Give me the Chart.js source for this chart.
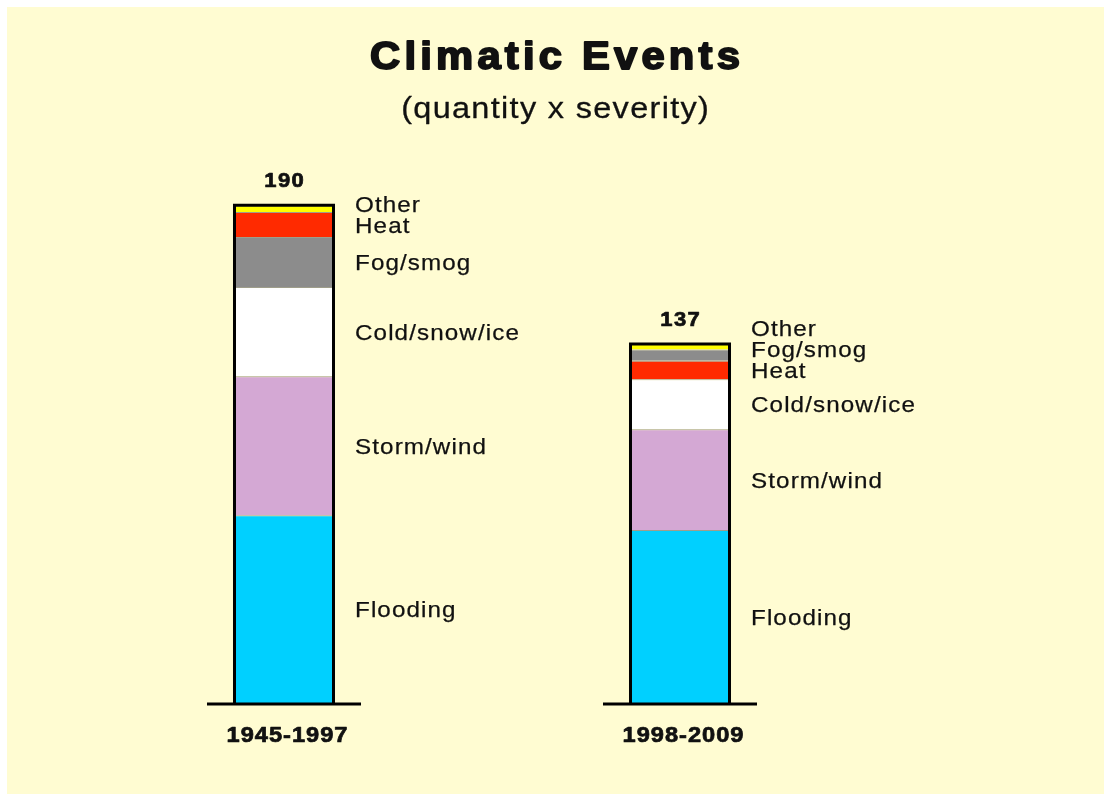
<!DOCTYPE html>
<html>
<head>
<meta charset="utf-8">
<title>Climatic Events</title>
<script src="https://cdn.jsdelivr.net/npm/chart.js@4/dist/chart.umd.min.js"></script>
<style>
  html, body { margin: 0; padding: 0; background: #ffffff; }
  canvas { display: block; }
</style>
</head>
<body>
<canvas id="chart" width="1104" height="794"></canvas>
<script>
// Periods compared
const periods = ['1945-1997', '1998-2009'];

// Event categories (quantity x severity) per period
const eventNames = ['Flooding', 'Storm/wind', 'Cold/snow/ice', 'Fog/smog', 'Heat', 'Other'];
const flooding    = [71.7, 66.0];
const stormWind   = [53.0, 38.5];
const coldSnowIce = [34.1, 19.1];
const fogSmog     = [19.1, 4.3];
const heat        = [9.5, 7.0];
const other       = [2.6, 2.1];

// Segment colours per category
const eventColors = ['#00d0ff', '#d4a8d4', '#ffffff', '#8c8c8c', '#ff2a00', '#ffff00'];

// Bottom-to-top stacking order of the categories within each period
const stackOrder = [
  [0, 1, 2, 3, 4, 5],
  [0, 1, 2, 4, 3, 5]
];

const eventValues = [flooding, stormWind, coldSnowIce, fogSmog, heat, other];

// One dataset per stacking layer; each layer picks its category per period
const layers = stackOrder[0].map((_, k) => ({
  label: 'layer ' + (k + 1),
  data: periods.map((_, p) => eventValues[stackOrder[p][k]][p]),
  names: periods.map((_, p) => eventNames[stackOrder[p][k]]),
  backgroundColor: periods.map((_, p) => eventColors[stackOrder[p][k]]),
  borderColor: 'rgba(80,80,80,0.55)',
  borderWidth: { top: 1, right: 0, bottom: 0, left: 0 },
  borderSkipped: false,
  stack: 'events'
}));

const totals = periods.map((_, p) => eventValues.reduce((s, arr) => s + arr[p], 0));

const FONT = '"Liberation Sans", Arial, Helvetica, sans-serif';
const STRETCH = 1.1;

// Draws text slightly widened with tracking; `weight` adds an outline for heavier lettering
function drawText(ctx, text, x, y, font, align, spacing, weight) {
  ctx.save();
  ctx.font = font;
  ctx.letterSpacing = spacing + 'px';
  const w = (ctx.measureText(text).width - spacing) * STRETCH;
  let left = x;
  if (align === 'center') left = x - w / 2;
  else if (align === 'right') left = x - w;
  ctx.translate(left, y);
  ctx.scale(STRETCH, 1);
  ctx.textAlign = 'left';
  ctx.textBaseline = 'alphabetic';
  ctx.fillStyle = '#111111';
  ctx.fillText(text, 0, 0);
  if (weight) {
    ctx.strokeStyle = '#111111';
    ctx.lineWidth = weight;
    ctx.lineJoin = 'round';
    ctx.strokeText(text, 0, 0);
  }
  ctx.restore();
}

const posterPlugin = {
  id: 'poster',
  beforeDraw(chart) {
    const ctx = chart.ctx;
    ctx.save();
    ctx.fillStyle = '#ffffff';
    ctx.fillRect(0, 0, chart.width, chart.height);
    ctx.fillStyle = '#fffcd2';
    ctx.fillRect(7, 7, chart.width - 7, chart.height - 7);
    ctx.restore();
  },
  afterDatasetsDraw(chart) {
    const ctx = chart.ctx;
    const yScale = chart.scales.y;
    const base = yScale.getPixelForValue(0);
    const topMeta = chart.getDatasetMeta(chart.data.datasets.length - 1);

    periods.forEach((period, p) => {
      const bar = topMeta.data[p];
      const cx = bar.x;
      const half = bar.width / 2;
      const yTop = yScale.getPixelForValue(totals[p]);

      // heavy outline round the whole stack
      ctx.save();
      ctx.strokeStyle = '#000000';
      ctx.lineWidth = 3;
      ctx.beginPath();
      ctx.moveTo(cx - half + 1.5, base);
      ctx.lineTo(cx - half + 1.5, yTop);
      ctx.lineTo(cx + half - 1.5, yTop);
      ctx.lineTo(cx + half - 1.5, base);
      ctx.stroke();

      // ground line under each bar
      ctx.beginPath();
      ctx.moveTo(cx - half - 26, base + 1);
      ctx.lineTo(cx + half + 26, base + 1);
      ctx.stroke();
      ctx.restore();

      // total above the bar
      drawText(ctx, String(Math.round(totals[p])), cx, yTop - 18,
        'bold 20px ' + FONT, 'center', 1.2, 0.7);

      // period under the bar
      drawText(ctx, period, cx + 3, 742, 'bold 21.5px ' + FONT, 'center', 0.9, 0.7);

      // segment names, pushed apart upwards where segments are thin
      let prev = Infinity;
      let lower = 0;
      chart.data.datasets.forEach((ds) => {
        const v = ds.data[p];
        const mid = yScale.getPixelForValue(lower + v / 2);
        lower += v;
        const y = Math.min(mid, prev - 21);
        prev = y;
        drawText(ctx, ds.names[p], cx + half + 20, y + 8.3, '22px ' + FONT, 'left', 1.0, 0.25);
      });
    });

    // heading
    drawText(ctx, 'Climatic Events', 555, 69, 'bold 38px ' + FONT, 'center', 3.8, 1.8);
    drawText(ctx, '(quantity x severity)', 555, 118, '29.5px ' + FONT, 'center', 1.2, 0.3);
  }
};

new Chart(document.getElementById('chart'), {
  type: 'bar',
  data: { labels: periods, datasets: layers },
  options: {
    responsive: false,
    animation: false,
    devicePixelRatio: 1,
    layout: { padding: { left: 86, right: 226, top: 179, bottom: 91 } },
    datasets: {
      bar: { categoryPercentage: 0.2576, barPercentage: 1 }
    },
    scales: {
      x: { stacked: true, display: false },
      y: { stacked: true, display: false, min: 0, max: 200 }
    },
    plugins: {
      legend: { display: false },
      tooltip: { enabled: false },
      title: { display: false }
    }
  },
  plugins: [posterPlugin]
});
</script>
</body>
</html>
